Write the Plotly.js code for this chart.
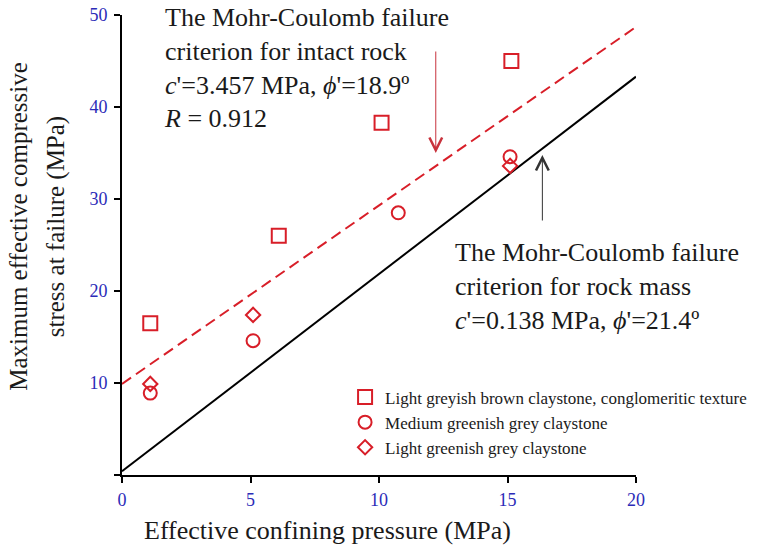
<!DOCTYPE html>
<html>
<head>
<meta charset="utf-8">
<script src="https://cdn.plot.ly/plotly-3.0.1.min.js"></script>
<style>html,body{margin:0;padding:0;background:#fff;}#chart{width:764px;height:546px;}</style>
</head>
<body>
<div id="chart"></div>
<script>
// ---- data ----
const xTicks = [0, 5, 10, 15, 20];
const xTickText = ['0', '5', '10', '15', '20'];
const yTicks = [0, 10, 20, 30, 40, 50];
const yTickText = ['', '10', '20', '30', '40', '50'];

const lineX = [0, 20];
const intactY = [9.9, 48.7];   // Mohr-Coulomb, intact rock (dashed red)
const massY = [0.4, 43.3];     // Mohr-Coulomb, rock mass (solid black)

const sqX = [1.1, 6.1, 10.1, 15.15];
const sqY = [16.5, 26.0, 38.3, 45.0];
const ciX = [1.1, 5.1, 10.75, 15.1];
const ciY = [8.9, 14.6, 28.5, 34.6];
const diX = [1.1, 5.1, 15.1];
const diY = [9.9, 17.4, 33.6];

const seriesNames = [
  'Light greyish brown claystone, conglomeritic texture',
  'Medium greenish grey claystone',
  'Light greenish grey claystone'
];

// ---- styling ----
const RED = '#d81e28';
const SERIF = 'Liberation Serif';
const BLUE = '#2b2bb8';
const TXT = '#1a1a1a';

const traces = [
  {x: lineX, y: intactY, mode: 'lines', showlegend: false, hoverinfo: 'skip',
   line: {color: RED, width: 2, dash: '11px,6px'}},
  {x: lineX, y: massY, mode: 'lines', showlegend: false, hoverinfo: 'skip',
   line: {color: '#000', width: 2}},
  {x: sqX, y: sqY, mode: 'markers', name: seriesNames[0],
   marker: {symbol: 'square-open', size: 14, color: RED, line: {color: RED, width: 2}}},
  {x: ciX, y: ciY, mode: 'markers', name: seriesNames[1],
   marker: {symbol: 'circle-open', size: 13, color: RED, line: {color: RED, width: 2}}},
  {x: diX, y: diY, mode: 'markers', name: seriesNames[2],
   marker: {symbol: 'diamond-open', size: 11, color: RED, line: {color: RED, width: 2}}}
];

const axBase = {showgrid: false, zeroline: false, fixedrange: true};

const layout = {
  width: 764, height: 546,
  margin: {l: 122, r: 126, t: 15, b: 71},
  paper_bgcolor: '#fff', plot_bgcolor: '#fff',
  font: {family: SERIF, color: TXT},
  showlegend: true,
  legend: {x: 0.434, y: 0.2076, xanchor: 'left', yanchor: 'top',
           bgcolor: 'rgba(0,0,0,0)', borderwidth: 0,
           font: {family: SERIF, size: 17, color: TXT}},
  xaxis: Object.assign({}, axBase, {
    range: [0, 20], tickmode: 'array', tickvals: xTicks, ticktext: xTickText,
    ticks: 'outside', ticklen: 6, tickwidth: 2, tickcolor: '#000',
    showline: true, linewidth: 2, linecolor: '#000',
    tickfont: {family: SERIF, size: 18, color: BLUE}, ticklabelstandoff: 1
  }),
  yaxis: Object.assign({}, axBase, {
    range: [0, 50], tickmode: 'array', tickvals: yTicks, ticktext: yTickText,
    ticks: 'outside', ticklen: 6, tickwidth: 2, tickcolor: '#000',
    showline: true, linewidth: 2, linecolor: '#000',
    tickfont: {family: SERIF, size: 18, color: BLUE}, ticklabelstandoff: 3
  }),
  xaxis2: Object.assign({}, axBase, {
    overlaying: 'x', anchor: 'y', range: [0, 20], tickmode: 'array', tickvals: xTicks,
    ticks: 'inside', ticklen: 6, tickwidth: 2, tickcolor: '#000',
    showticklabels: false, showline: false
  }),
  yaxis2: Object.assign({}, axBase, {
    overlaying: 'y', anchor: 'x', range: [0, 50], tickmode: 'array', tickvals: yTicks,
    ticks: 'inside', ticklen: 6, tickwidth: 2, tickcolor: '#000',
    showticklabels: false, showline: false
  }),
  annotations: [
    {xref: 'paper', yref: 'paper', x: 0.077, y: 0.885, xanchor: 'left', yanchor: 'middle',
     align: 'left', showarrow: false, font: {family: SERIF, size: 26, color: TXT},
     text: 'The Mohr-Coulomb failure<br>criterion for intact rock<br><i>c</i>\'=3.457 MPa, <i>ϕ</i>\'=18.9º<br><i>R</i> = 0.912'},
    {xref: 'paper', yref: 'paper', x: 0.643, y: 0.41, xanchor: 'left', yanchor: 'middle',
     align: 'left', showarrow: false, font: {family: SERIF, size: 26, color: TXT},
     text: 'The Mohr-Coulomb failure<br>criterion for rock mass<br><i>c</i>\'=0.138 MPa, <i>ϕ</i>\'=21.4º'},
    // red arrow (points down to the dashed line)
    {xref: 'paper', yref: 'paper', x: (437 - 122) / 516, y: (475 - 153) / 460,
     text: '', showarrow: true, ax: 0, ay: -103, axref: 'pixel', ayref: 'pixel',
     arrowhead: 5, arrowsize: 2.5, arrowwidth: 1, arrowcolor: '#c8323c'},
    // black arrow (points up to the solid line)
    {xref: 'paper', yref: 'paper', x: (544 - 122) / 516, y: (475 - 155) / 460,
     text: '', showarrow: true, ax: 0, ay: 67, axref: 'pixel', ayref: 'pixel',
     arrowhead: 5, arrowsize: 2.5, arrowwidth: 1, arrowcolor: '#333'},
    // axis titles
    {xref: 'paper', yref: 'paper', x: 0.399, y: -0.12, xanchor: 'center', yanchor: 'middle',
     showarrow: false, font: {family: SERIF, size: 26, color: TXT},
     text: 'Effective confining pressure (MPa)'},
    {xref: 'paper', yref: 'paper', x: -0.203, y: 0.541, xanchor: 'center', yanchor: 'middle',
     showarrow: false, textangle: -90, font: {family: SERIF, size: 25, color: TXT},
     text: 'Maximum effective compressive'},
    {xref: 'paper', yref: 'paper', x: -0.128, y: 0.539, xanchor: 'center', yanchor: 'middle',
     showarrow: false, textangle: -90, font: {family: SERIF, size: 25, color: TXT},
     text: 'stress at failure (MPa)'}
  ]
};

Plotly.newPlot('chart', traces, layout, {displayModeBar: false, staticPlot: true});
</script>
</body>
</html>
